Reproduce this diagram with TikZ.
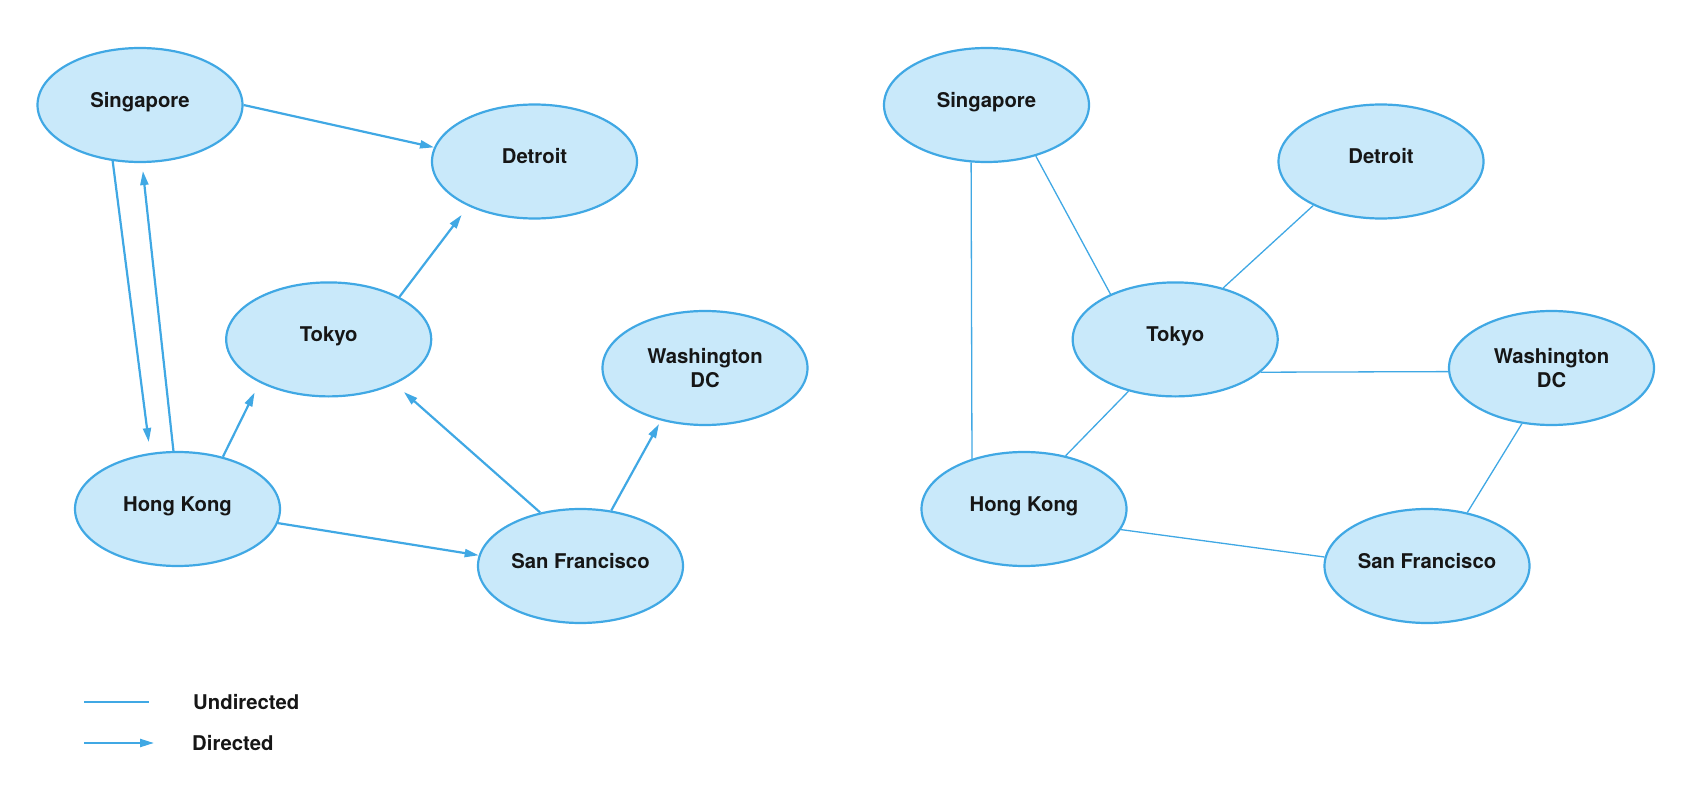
\documentclass[tikz,border=0pt]{standalone}
\usepackage{fontspec}
\setmainfont{TeX Gyre Heros}
\usetikzlibrary{shapes.geometric,arrows.meta}
\definecolor{cityline}{RGB}{64,168,228}
\definecolor{cityfill}{RGB}{201,233,250}
\definecolor{cityink}{RGB}{22,22,22}

\begin{document}
\begin{tikzpicture}[x=1pt,y=-1pt,
    city/.style={ellipse,draw=cityline,fill=cityfill,line width=2.2pt,
      minimum width=205pt,minimum height=114pt,inner sep=0pt,text=cityink,
      font=\fontsize{20.3}{23.3}\selectfont\bfseries,text height=16pt,text depth=11pt},
    directed/.style={draw=cityline,line width=2.2pt,-{Triangle[length=14pt,width=8pt]}},
    undirected/.style={draw=cityline,line width=1.3pt},
    legend/.style={anchor=west,inner sep=0pt,text=cityink,
      font=\fontsize{20.3}{23.3}\selectfont\bfseries}]
  \useasboundingbox (0,0) rectangle (1692,802);

  \node[city] (sgL) at (140,105) {Singapore};
  \node[city] (dtL) at (534.5,161.5) {Detroit};
  \node[city] (tkL) at (328.7,339.4) {Tokyo};
  \node[city,align=center,text height=,text depth=] (wsL) at (705,368) {Washington\\DC};
  \node[city] (hkL) at (177.5,509) {Hong Kong};
  \node[city] (sfL) at (580.5,566) {San Francisco};

  \draw[directed] (sgL.0) -- (dtL.172);
  \draw[directed,shorten >=11pt] (sgL.244) -- (hkL.116);
  \draw[directed,shorten >=8pt] (hkL.94) -- (sgL.-88);
  \draw[directed,shorten >=11pt] (hkL.49) -- (tkL.212);
  \draw[directed,shorten >=11pt] (tkL.31) -- (dtL.214);
  \draw[directed] (hkL.-8) -- (sfL.174);
  \draw[directed,shorten >=12pt] (sfL.127) -- (tkL.-34);
  \draw[directed,shorten >=4pt] (sfL.61) -- (wsL.230);

  \begin{scope}[xshift=846.5pt]
    \node[city] (sgR) at (140,105) {Singapore};
    \node[city] (dtR) at (534.5,161.5) {Detroit};
    \node[city] (tkR) at (328.7,339.4) {Tokyo};
    \node[city,align=center,text height=,text depth=] (wsR) at (705,368) {Washington\\DC};
    \node[city] (hkR) at (177.5,509) {Hong Kong};
    \node[city] (sfR) at (580.5,566) {San Francisco};

    \draw[undirected] (sgR.-105) -- (hkR.136);
    \draw[undirected] (sgR.-46) -- (tkR.145);
    \draw[undirected] (dtR.213) -- (tkR.47);
    \draw[undirected] (tkR.-21) -- (wsR.182);
    \draw[undirected] (tkR.228) -- (hkR.52);
    \draw[undirected] (hkR.-12) -- (sfR.175);
    \draw[undirected] (wsR.242) -- (sfR.53);
  \end{scope}

  \coordinate (undirA) at (84,702);
  \coordinate (undirB) at (149,702);
  \draw[undirected] (undirA) -- (undirB);
  \node[legend] (undirT) at (193,702) {Undirected};
  \coordinate (dirA) at (84,743);
  \coordinate (dirB) at (154,743);
  \draw[directed] (dirA) -- (dirB);
  \node[legend] (dirT) at (192,743) {Directed};
\end{tikzpicture}
\end{document}
